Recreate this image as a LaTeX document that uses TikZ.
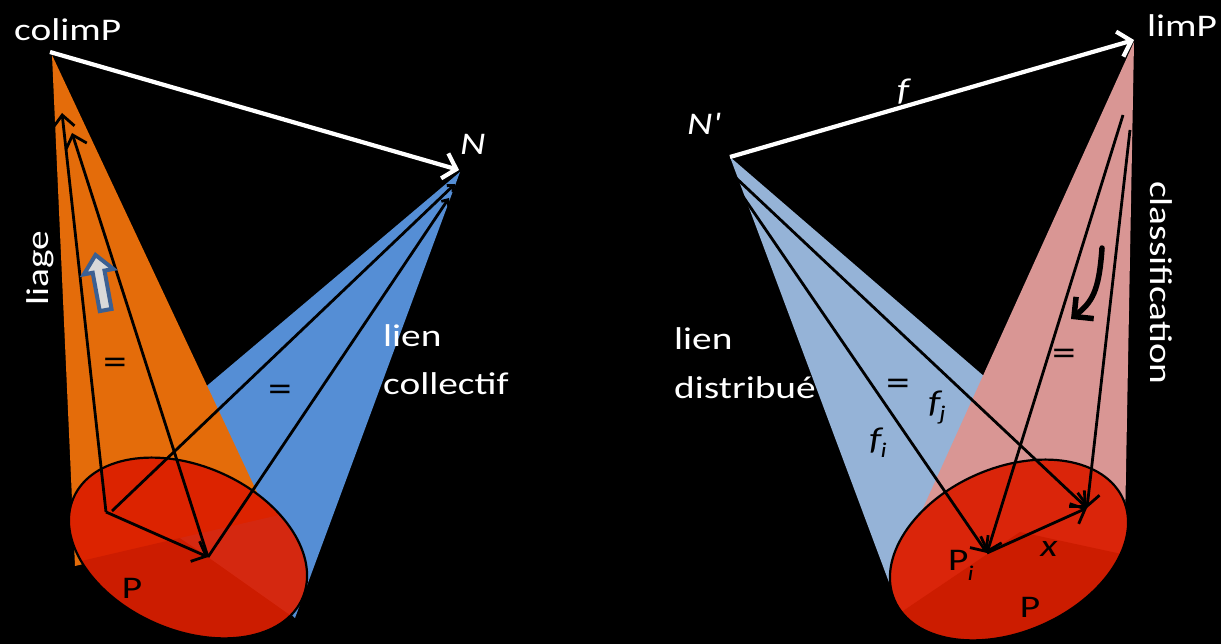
\documentclass[tikz,border=0pt]{standalone}
\usepackage{fontspec}
\setmainfont{Carlito}[FakeStretch=1.25]
\newfontfamily\nomapfont{Carlito}[FakeStretch=1.25,Ligatures=TeXOff]
\usetikzlibrary{arrows.meta}
\definecolor{corange}{HTML}{E46C0A}
\definecolor{cblue}{HTML}{558ED5}
\definecolor{clblue}{HTML}{95B3D7}
\definecolor{cpink}{HTML}{D99694}
\definecolor{rU}{HTML}{DC2300}
\definecolor{rL}{HTML}{CC1C00}
\definecolor{rR}{HTML}{D42810}
\definecolor{rU2}{HTML}{DA250A}
\definecolor{bkblue}{RGB}{60,96,146}
\definecolor{bkgray}{HTML}{D9D9D9}
\begin{document}
\begin{tikzpicture}[x=1pt,y=-1pt,
  wtxt/.style={text=white,font=\fontsize{31.5}{38}\selectfont,inner sep=0pt},
  itxt/.style={text=white,font=\fontsize{31.5}{38}\selectfont\itshape,inner sep=0pt},
  btxt/.style={text=black,font=\fontsize{31.5}{38}\selectfont,inner sep=0pt},
  eqtxt/.style={text=black,font=\fontsize{38}{44}\selectfont,inner sep=0pt},
  bitxt/.style={text=black,font=\fontsize{31.5}{38}\selectfont\itshape,inner sep=0pt},
  wline/.style={draw=white,line width=4.2pt,-{Straight Barb[length=12pt,width=26pt]}},
  bline/.style={draw=black,line width=2.8pt},
  barr/.style={bline,-{Straight Barb[length=12pt,width=22pt]}},
  sarr/.style={bline,-{Straight Barb[length=5pt,width=9pt]}},
  rim/.style={draw=black,line width=2.2pt},
]
\useasboundingbox (0,0) rectangle (1221,644);
\fill[black] (0,0) rectangle (1221,644);

% ---------- left part ----------
\coordinate (colim) at (50,52);
\coordinate (N) at (459,170);
\coordinate (A) at (106,512);
\coordinate (A2) at (112,511);
\coordinate (B) at (208,557);
\coordinate (tA) at (62,113);
\coordinate (tB) at (72,133);
\coordinate (nA) at (455,184);
\coordinate (nB) at (449,198);

\fill[cblue] (460,172) -- (125,455) -- (295,618) -- cycle;
\fill[corange] (52,55) -- (75,566) -- (270,520) -- cycle;

\begin{scope}
  \clip[rotate around={-23.8:(188,548)}] (188,548) ellipse [x radius=125, y radius=82];
  \fill[rU] (40,400) rectangle (340,680);
  \fill[rL] (40,570) -- (77,562) -- (180,538) -- (208,557) -- (300,622) -- (300,680) -- (40,680) -- cycle;
  \fill[rR] (180,538) -- (275,516) -- (340,500) -- (340,680) -- (300,622) -- (208,557) -- cycle;
\end{scope}
\draw[rim, rotate around={-23.8:(188,548)}] (188,548) ellipse [x radius=125, y radius=82];

\draw[barr] (A) -- (tA);
\draw[barr] (B) -- (tB);
\draw[barr] (A) -- (B);
\draw[sarr] (A2) -- (nA);
\draw[sarr] (B) -- (nB);

\draw[wline] (colim) -- (N);

\begin{scope}[shift={(106,312)}, rotate=10.4]
  \draw[fill=bkgray, draw=bkblue, line width=4pt, line join=miter]
    (-6,-2) -- (-6,-41) -- (-15,-41) -- (0,-58) -- (15,-41) -- (6,-41) -- (6,-2) -- cycle;
\end{scope}

\node[wtxt, anchor=base west] (tcolim) at (14,41) {colimP};
\node[itxt, anchor=base west] (tN) at (460,155) {N};
\node[wtxt, rotate=90] (tliage) at (40,268) {liage};
\node[wtxt, anchor=base west] (tlien1) at (383,347) {lien};
\node[wtxt, anchor=base west] (tcoll) at (383,394) {collectif};
\node[eqtxt] (eq1) at (115,366) {=};
\node[eqtxt] (eq2) at (280,393) {=};
\node[btxt] (tP1) at (132,588) {P};

% ---------- right part ----------
\coordinate (Np) at (730,157);
\coordinate (limp) at (1134,40);
\coordinate (Pi) at (987,553);
\coordinate (Pj) at (1087,508);
\coordinate (Nb1) at (735,177);
\coordinate (Nb2) at (742,195);
\coordinate (L1) at (1123,115);
\coordinate (L2) at (1130,130);
\coordinate (c0) at (1102,248);
\coordinate (c1) at (1071,319);

\fill[clblue] (730,157) -- (1000,390) -- (890,585) -- cycle;
\fill[cpink] (1134,42) -- (905,548) -- (1125,525) -- cycle;

\begin{scope}
  \clip[rotate around={23.8:(1009,550)}] (1009,550) ellipse [x radius=125, y radius=82];
  \fill[rU2] (860,420) rectangle (1160,680);
  \fill[rL] (860,636) -- (900,613) -- (1020,532) -- (1140,558) -- (1160,680) -- (860,680) -- cycle;
\end{scope}
\draw[rim, rotate around={23.8:(1009,550)}] (1009,550) ellipse [x radius=125, y radius=82];

\draw[barr] (Nb1) -- (Pj);
\draw[barr] (Nb2) -- (Pi);
\draw[barr] (L1) -- (Pi);
\draw[barr] (L2) -- (Pj);
\draw[barr] (Pi) -- (Pj);

\draw[line width=5.5pt, line cap=round, -{Straight Barb[length=14pt,width=28pt]}]
  (c0) .. controls (1099,292) and (1092,302) .. (c1);

\draw[wline] (Np) -- (limp);

\node[wtxt, anchor=base west] (tlim) at (1147,37) {limP};
\node[itxt, anchor=base west] (tNp) at (687,135) {\nomapfont\itshape N'};
\node[itxt] (tf) at (903,92) {f};
\node[wtxt, anchor=base west] (tlien2) at (674,349) {lien};
\node[wtxt, anchor=base west] (tdist) at (674,398) {distribué};
\node[wtxt, rotate=-90] (tclass) at (1161,283) {classification};
\node[eqtxt] (eq3) at (898,387) {=};
\node[eqtxt] (eq4) at (1064,357) {=};
\node[bitxt] (tfi) at (878,443) {f\kern-1pt\raisebox{-8pt}{\fontsize{21}{21}\selectfont i}};
\node[bitxt] (tfj) at (937,408) {f\kern-1pt\raisebox{-8pt}{\fontsize{21}{21}\selectfont j}};
\node[bitxt] (tx) at (1049,549) {x};
\node[btxt, anchor=base west] (tPi) at (948,570) {P\kern-1pt\raisebox{-10pt}{\fontsize{21}{21}\selectfont\itshape i}};
\node[btxt] (tP2) at (1030,607) {P};
\end{tikzpicture}
\end{document}
